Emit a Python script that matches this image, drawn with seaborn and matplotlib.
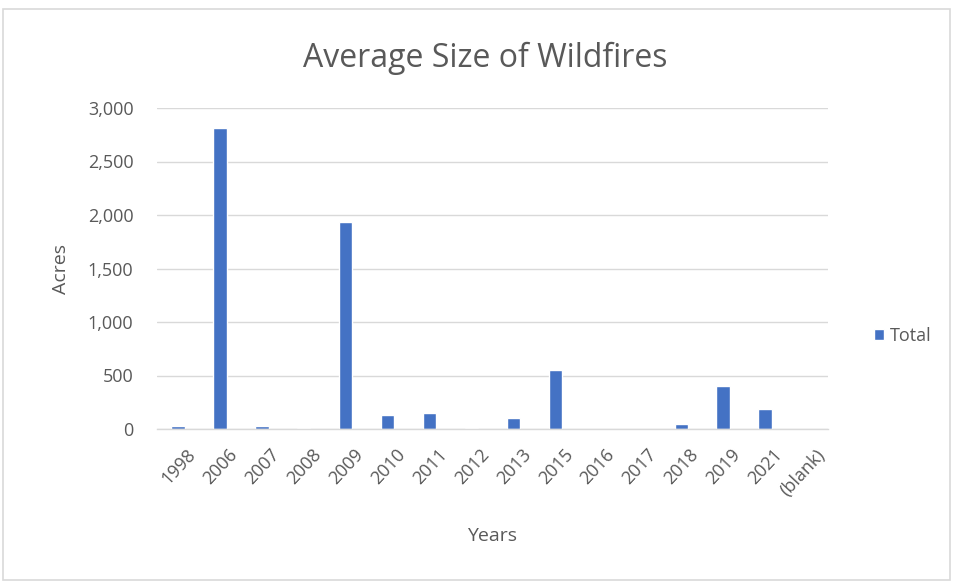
import matplotlib
matplotlib.use("Agg")
import matplotlib.pyplot as plt
import matplotlib.transforms as mtransforms
import seaborn as sns
import pandas as pd
from matplotlib.patches import Rectangle

years = ["1998", "2006", "2007", "2008", "2009", "2010", "2011", "2012",
         "2013", "2015", "2016", "2017", "2018", "2019", "2021", "(blank)"]
avg_acres = [32, 2815, 25, 14, 1935, 130, 145, 14, 105, 550, 0, 0, 45, 405, 190, 0]
series_name = "Total"

df = pd.DataFrame({"Years": years, "Acres": avg_acres, "Series": series_name})

sns.set_theme(style="white")
plt.rcParams["font.family"] = ["Open Sans", "DejaVu Sans"]

fig = plt.figure(figsize=(9.54, 5.83), dpi=100)
ax = fig.add_axes([157 / 954, 1 - 429 / 583, (828 - 157) / 954, (429 - 108) / 583])

text_color = "#595959"
bar_color = "#4472C4"

sns.barplot(data=df, x="Years", y="Acres", hue="Series", palette=[bar_color],
            width=0.32, ax=ax, saturation=1)

ax.set_xlim(-0.5, len(years) - 0.5)
ax.set_ylim(0, 3000)
ax.set_yticks(range(0, 3001, 500))
ax.set_yticklabels([f"{v:,}" for v in range(0, 3001, 500)], color=text_color, fontsize=13)
ax.set_xticks(range(len(years)))
ax.set_xticklabels(years, rotation=47, ha="right", rotation_mode="anchor",
                   color=text_color, fontsize=13)
ax.tick_params(axis="y", length=0, pad=17)
ax.tick_params(axis="x", length=0, pad=12)

# nudge the slanted year labels so they end just right of their bar
shift = mtransforms.ScaledTranslation(8 / 100, 0, fig.dpi_scale_trans)
for lbl in ax.get_xticklabels():
    lbl.set_transform(lbl.get_transform() + shift)

ax.yaxis.grid(True, color="#d9d9d9", linewidth=1)
ax.set_axisbelow(True)
for side in ["top", "right", "left"]:
    ax.spines[side].set_visible(False)
ax.spines["bottom"].set_color("#d9d9d9")
ax.spines["bottom"].set_linewidth(1)

ax.set_xlabel("Years", color=text_color, fontsize=14, labelpad=20)
ax.set_ylabel("Acres", color=text_color, fontsize=14, labelpad=13)

fig.suptitle("Average Size of Wildfires", x=485 / 954, y=1 - 58 / 583, va="center",
             color=text_color, fontsize=23)

leg = ax.legend(loc="center left", bbox_to_anchor=(1.045, 0.29), frameon=False,
                handlelength=0.55, handleheight=0.55, handletextpad=0.3, fontsize=13)
for t in leg.get_texts():
    t.set_color(text_color)

# outer chart border
fig.patches.append(Rectangle((3 / 954, 3 / 583), 947 / 954, 571 / 583,
                             transform=fig.transFigure, fill=False,
                             edgecolor="#d9d9d9", linewidth=1.2))

fig.savefig("out.png", dpi=100, facecolor="white")
